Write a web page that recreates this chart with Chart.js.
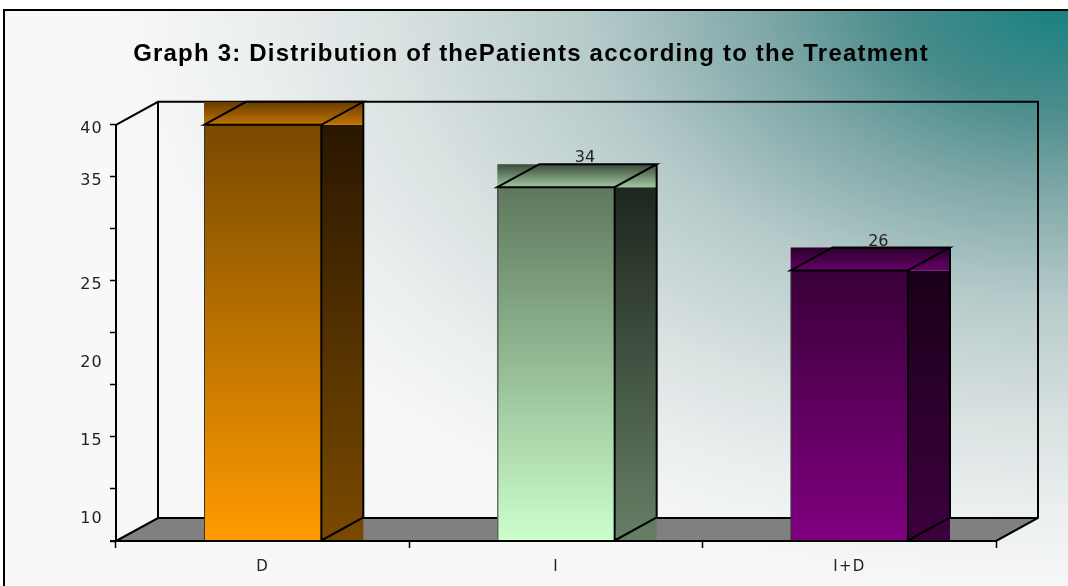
<!DOCTYPE html>
<html>
<head>
<meta charset="utf-8">
<script src="https://cdn.jsdelivr.net/npm/chart.js@4.4.1/dist/chart.umd.min.js"></script>
<style>
  html, body { margin: 0; padding: 0; background: #fff; }
  #wrap { width: 1068px; height: 586px; }
</style>
</head>
<body>
<div id="wrap"><canvas id="treatmentChart" width="1068" height="586"></canvas></div>
<script>
// data
const categories = ['D', 'I', 'I+D'];
const patients = [40, 34, 26];
const valueLabels = ['', '34', '26'];
// tick labels as printed in the graph (positions on the value scale)
const yTickValues = [40, 35, 25, 17.5, 10, 2.5];
const yTickLabels = ['40', '35', '25', '20', '15', '10'];

// bar colours: front / side / top, dark end first
const frontTop = ['#784900', '#5d775d', '#3a0039'];
const frontBottom = ['#ff9b00', '#ccffcc', '#800080'];
const sideTop = ['#2a1700', '#1e261e', '#1a001a'];
const sideBottom = ['#7a4a00', '#667f66', '#3d003d'];
const capTop = ['#663c00', '#3a4a3a', '#28002a'];
const capBottom = ['#c27300', '#9fc79f', '#680068'];

const DX = 42;   // depth offset
const DY = 23;

const backdrop = {
    id: 'backdrop',
    beforeDraw(chart) {
        const ctx = chart.ctx;
        const W = chart.width, H = chart.height;
        const a = chart.chartArea;
        ctx.save();
        ctx.fillStyle = '#fff';
        ctx.fillRect(0, 0, W, H);

        // elliptical teal glow from the top-right corner
        ctx.save();
        ctx.beginPath();
        ctx.rect(4, 10, W - 4, H - 10);
        ctx.clip();
        ctx.translate(W, 0);
        ctx.scale(960 / 600, 1);
        const g = ctx.createRadialGradient(0, 0, 0, 0, 0, 600);
        g.addColorStop(0, '#148080');
        g.addColorStop(0.18, '#4a8c8c');
        g.addColorStop(0.32, '#80a8a8');
        g.addColorStop(0.5, '#b6caca');
        g.addColorStop(0.7, '#d9e1e1');
        g.addColorStop(0.85, '#ebeff0');
        g.addColorStop(1, '#f8f8f8');
        ctx.fillStyle = g;
        ctx.fillRect(-W * 2, -10, W * 3, H * 2);
        ctx.restore();

        // frame
        ctx.strokeStyle = '#000';
        ctx.lineWidth = 2;
        ctx.beginPath();
        ctx.moveTo(4, H);
        ctx.lineTo(4, 10);
        ctx.lineTo(W, 10);
        ctx.stroke();

        // floor
        const L = a.left, R = a.right, T = a.top, B = a.bottom;
        ctx.fillStyle = '#808080';
        ctx.beginPath();
        ctx.moveTo(L, B);
        ctx.lineTo(L + DX, B - DY);
        ctx.lineTo(R + DX, B - DY);
        ctx.lineTo(R, B);
        ctx.closePath();
        ctx.fill();

        // walls
        ctx.strokeStyle = '#000';
        ctx.lineWidth = 2;
        ctx.beginPath();
        ctx.moveTo(L, T);
        ctx.lineTo(L + DX, T - DY);
        ctx.lineTo(R + DX, T - DY);
        ctx.lineTo(R + DX, B - DY);
        ctx.lineTo(R, B);
        ctx.moveTo(L, B);
        ctx.lineTo(L + DX, B - DY);
        ctx.lineTo(R + DX, B - DY);
        ctx.moveTo(L + DX, T - DY);
        ctx.lineTo(L + DX, B - DY);
        ctx.stroke();
        ctx.restore();
        // the printed text is a little wide
        ctx.letterSpacing = '1.2px';
    },
    beforeDatasetsDraw(chart) {
        chart.ctx.letterSpacing = '0px';
    }
};

const box3d = {
    id: 'box3d',
    afterDatasetsDraw(chart) {
        const ctx = chart.ctx;
        const meta = chart.getDatasetMeta(0);
        ctx.save();
        meta.data.forEach((bar, i) => {
            const x0 = bar.x - bar.width / 2;
            const x1 = bar.x + bar.width / 2;
            const yT = bar.y;
            const yB = bar.base;

            // side
            let g = ctx.createLinearGradient(0, yT, 0, yB);
            g.addColorStop(0, sideTop[i]);
            g.addColorStop(1, sideBottom[i]);
            ctx.fillStyle = g;
            ctx.fillRect(x1, yT, DX, yB - yT);

            // top
            g = ctx.createLinearGradient(0, yT - DY, 0, yT);
            g.addColorStop(0, capTop[i]);
            g.addColorStop(1, capBottom[i]);
            ctx.fillStyle = g;
            ctx.fillRect(x0, yT - DY, x1 - x0 + DX, DY);

            // outlines
            ctx.strokeStyle = '#000';
            ctx.lineWidth = 2;
            ctx.beginPath();
            ctx.moveTo(x0, yT);
            ctx.lineTo(x0 + DX, yT - DY);
            ctx.lineTo(x1 + DX, yT - DY);
            ctx.lineTo(x1, yT);
            ctx.closePath();
            ctx.moveTo(x1, yT);
            ctx.lineTo(x1, yB);
            ctx.moveTo(x1 + DX, yT - DY);
            ctx.lineTo(x1 + DX, yB - DY);
            ctx.lineTo(x1, yB);
            ctx.stroke();

            ctx.lineWidth = 1;
            ctx.strokeStyle = '#333';
            ctx.beginPath();
            ctx.moveTo(x0 + 0.5, yT);
            ctx.lineTo(x0 + 0.5, yB);
            ctx.stroke();

            // value label
            if (valueLabels[i]) {
                ctx.fillStyle = '#222';
                ctx.font = '16px "DejaVu Sans", sans-serif';
                ctx.textAlign = 'center';
                ctx.textBaseline = 'middle';
                ctx.fillText(valueLabels[i], bar.x + 29, yT - DY - 6);
            }
        });
        // redraw front axis line over the bars' feet
        const a = chart.chartArea;
        ctx.strokeStyle = '#000';
        ctx.lineWidth = 2;
        ctx.beginPath();
        ctx.moveTo(a.left - 6, a.bottom);
        ctx.lineTo(a.right, a.bottom);
        ctx.stroke();
        ctx.restore();
    }
};

const canvas = document.getElementById('treatmentChart');
const treatmentChart = new Chart(canvas.getContext('2d'), {
    type: 'bar',
    data: {
        labels: categories,
        datasets: [{
            label: 'Patients',
            data: patients,
            backgroundColor: function(c) {
                const chart = c.chart;
                const i = c.dataIndex;
                const area = chart.chartArea;
                if (!area || !chart.scales.y) return frontBottom[i];
                const yTop = chart.scales.y.getPixelForValue(patients[i]);
                const g = chart.ctx.createLinearGradient(0, yTop, 0, area.bottom);
                g.addColorStop(0, frontTop[i]);
                g.addColorStop(1, frontBottom[i]);
                return g;
            },
            borderWidth: 0,
            barPercentage: 0.4,
            categoryPercentage: 1.0
        }]
    },
    options: {
        responsive: false,
        animation: false,
        layout: {
            padding: { left: 66, right: 72, top: 0, bottom: 0 }
        },
        plugins: {
            legend: { display: false },
            tooltip: { enabled: false },
            title: {
                display: true,
                text: 'Graph 3: Distribution of thePatients according to the Treatment',
                color: '#000',
                font: { family: '"Liberation Sans", Arial, sans-serif', size: 24, weight: 'bold' },
                padding: { top: 40, bottom: 56 }
            }
        },
        scales: {
            x: {
                afterFit: function(s) { s.height = 45; },
                border: { color: '#000', width: 2 },
                grid: {
                    display: true,
                    offset: true,
                    drawOnChartArea: false,
                    tickLength: 7,
                    tickColor: '#000',
                    tickWidth: 1.5
                },
                ticks: {
                    color: '#222',
                    padding: 10,
                    font: { family: '"DejaVu Sans", sans-serif', size: 15 }
                }
            },
            y: {
                min: 0,
                max: 40,
                afterFit: function(s) { s.width = 50; },
                border: { color: '#000', width: 2 },
                grid: {
                    drawOnChartArea: false,
                    tickLength: 6,
                    tickWidth: 1.5,
                    tickColor: function(c) {
                        return (c.tick && c.tick.value % 5 === 0) ? '#000' : 'rgba(0,0,0,0)';
                    }
                },
                ticks: {
                    stepSize: 2.5,
                    autoSkip: false,
                    padding: 7,
                    labelOffset: 4,
                    color: '#222',
                    font: { family: '"DejaVu Sans", sans-serif', size: 16 },
                    callback: function(value) {
                        const i = yTickValues.findIndex(v => Math.abs(v - value) < 0.01);
                        return i >= 0 ? yTickLabels[i] : '';
                    }
                }
            }
        }
    },
    plugins: [backdrop, box3d]
});
</script>
</body>
</html>
